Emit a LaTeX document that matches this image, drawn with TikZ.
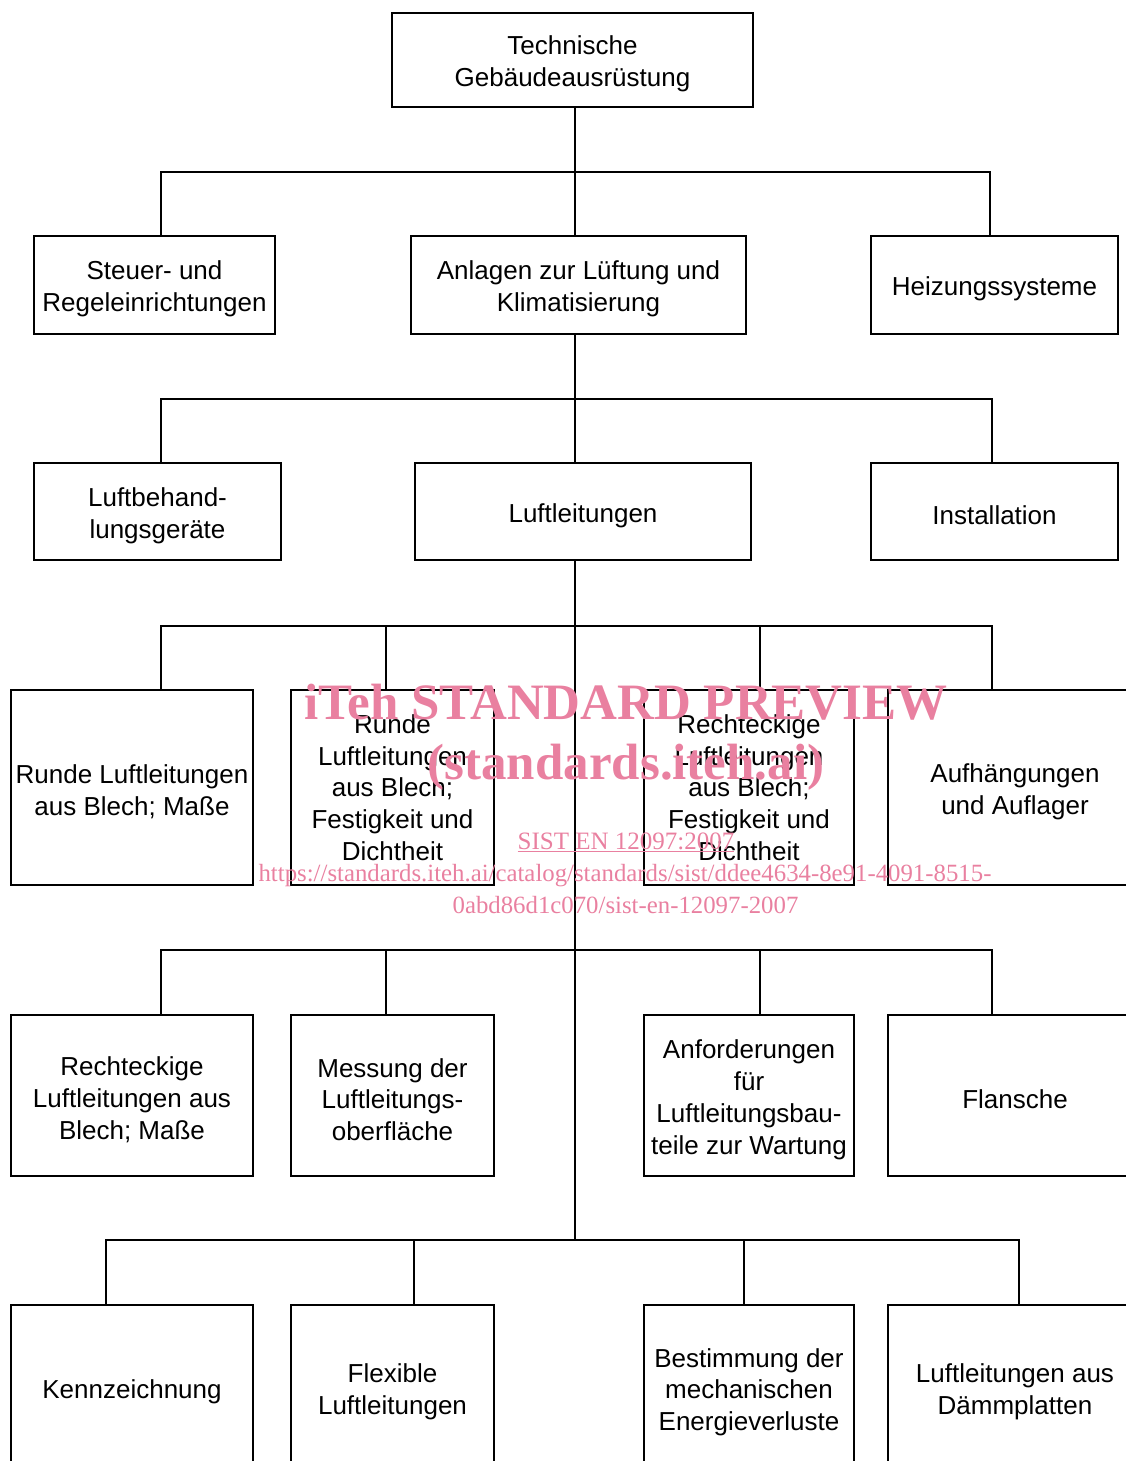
\documentclass[tikz,border=0pt]{standalone}
\usepackage{fontspec}
\setmainfont{Liberation Sans}
\newfontfamily\stampfont{Liberation Serif}
\usetikzlibrary{positioning}
\definecolor{stamppink}{RGB}{233,128,160}
\newcommand{\lift}{\rule{0pt}{27pt}}
\tikzstyle{link} = [draw, line width=1.6pt]
\tikzstyle{every topic} = [draw, line width=1.6pt, align=center, inner sep=0pt, font=\fontsize{26}{31.8}\selectfont]
\tikzstyle{topic} = [rectangle, every topic]
\tikzstyle{stamp} = [text=stamppink, inner sep=0pt, anchor=base]

\begin{document}
\begin{tikzpicture}[x=1pt, y=-1pt]
\useasboundingbox (0,0) rectangle (1126,1461);
\clip (0,0) rectangle (1126,1461);

% Top

\node[topic, minimum width=361pt, minimum height=94pt] (tga) at (572.5,60) {\lift Technische\\Gebäudeausrüstung};

% Second level

\node[topic, minimum width=241pt, minimum height=98pt] (steuer) at (154.5,285) {\lift Steuer- und\\Regeleinrichtungen};
\node[topic, minimum width=335pt, minimum height=98pt] (anlagen) at (578.5,285) {\lift Anlagen zur Lüftung und\\Klimatisierung};
\node[topic, minimum width=247pt, minimum height=98pt] (heizung) at (994.5,285) {\lift Heizungssysteme};

\coordinate (b1l) at (161,172);
\coordinate (b1m) at (575,172);
\coordinate (b1r) at (990,172);
\draw[link] (tga.south -| b1m) -- (b1m |- anlagen.north);
\draw[link] (b1l |- steuer.north) -- (b1l) -- (b1r) -- (b1r |- heizung.north);

% Third level

\node[topic, minimum width=247pt, minimum height=97pt] (luftbeh) at (157.5,511.5) {\lift Luftbehand-\\lungsgeräte};
\node[topic, minimum width=336pt, minimum height=97pt] (luftl) at (583,511.5) {\lift Luftleitungen};
\node[topic, minimum width=247pt, minimum height=97pt] (install) at (994.5,511.5) {\lift Installation};

\coordinate (b2l) at (161,399);
\coordinate (b2m) at (575,399);
\coordinate (b2r) at (992,399);
\draw[link] (anlagen.south -| b2m) -- (b2m |- luftl.north);
\draw[link] (b2l |- luftbeh.north) -- (b2l) -- (b2r) -- (b2r |- install.north);

% Luftleitungen, parts

\node[topic, minimum width=242pt, minimum height=195pt] (rundmass) at (132,787.5) {\lift Runde Luftleitungen\\aus Blech; Maße};
\node[topic, minimum width=203pt, minimum height=195pt] (rundfest) at (392.5,787.5) {Runde\\Luftleitungen\\aus Blech;\\Festigkeit und\\Dichtheit};
\node[topic, minimum width=210pt, minimum height=195pt] (rechtfest) at (749,787.5) {Rechteckige\\Luftleitungen\\aus Blech;\\Festigkeit und\\Dichtheit};
\node[topic, minimum width=254pt, minimum height=195pt] (aufhaeng) at (1015,787.5) {\lift Aufhängungen\\und Auflager};

\node[topic, minimum width=242pt, minimum height=161pt] (rechtmass) at (132,1095.5) {\lift Rechteckige\\Luftleitungen aus\\Blech; Maße};
\node[topic, minimum width=203pt, minimum height=161pt] (messung) at (392.5,1095.5) {\lift Messung der\\Luftleitungs-\\oberfläche};
\node[topic, minimum width=210pt, minimum height=161pt] (wartung) at (749,1095.5) {\lift Anforderungen\\für\\Luftleitungsbau-\\teile zur Wartung};
\node[topic, minimum width=254pt, minimum height=161pt] (flansch) at (1015,1095.5) {\lift Flansche};

\node[topic, minimum width=242pt, minimum height=166pt] (kennz) at (132,1388) {\lift Kennzeichnung};
\node[topic, minimum width=203pt, minimum height=166pt] (flexibel) at (392.5,1388) {\lift Flexible\\Luftleitungen};
\node[topic, minimum width=210pt, minimum height=166pt] (energie) at (749,1388) {\lift Bestimmung der\\mechanischen\\Energieverluste};
\node[topic, minimum width=254pt, minimum height=166pt] (daemm) at (1015,1388) {\lift Luftleitungen aus\\Dämmplatten};

\coordinate (trunk) at (575,1240);
\draw[link] (luftl.south -| trunk) -- (trunk);

\coordinate (b3a) at (161,626);
\coordinate (b3b) at (386,626);
\coordinate (b3c) at (760,626);
\coordinate (b3d) at (992,626);
\draw[link] (b3a |- rundmass.north) -- (b3a) -- (b3d) -- (b3d |- aufhaeng.north);
\draw[link] (b3b) -- (b3b |- rundfest.north);
\draw[link] (b3c) -- (b3c |- rechtfest.north);

\coordinate (b4a) at (161,950);
\coordinate (b4b) at (386,950);
\coordinate (b4c) at (760,950);
\coordinate (b4d) at (992,950);
\draw[link] (b4a |- rechtmass.north) -- (b4a) -- (b4d) -- (b4d |- flansch.north);
\draw[link] (b4b) -- (b4b |- messung.north);
\draw[link] (b4c) -- (b4c |- wartung.north);

\coordinate (b5a) at (106,1240);
\coordinate (b5b) at (414,1240);
\coordinate (b5c) at (744,1240);
\coordinate (b5d) at (1019,1240);
\draw[link] (b5a |- kennz.north) -- (b5a) -- (b5d) -- (b5d |- daemm.north);
\draw[link] (b5b) -- (b5b |- flexibel.north);
\draw[link] (b5c) -- (b5c |- energie.north);

% Stamp

\node[stamp, font=\stampfont\bfseries\fontsize{51}{60}\selectfont] (wm1) at (626,719) {iTeh STANDARD PREVIEW};
\node[stamp, font=\stampfont\bfseries\fontsize{51}{60}\selectfont] (wm2) at (626,779) {(standards.iteh.ai)};
\node[stamp, font=\stampfont\fontsize{25}{32}\selectfont] (wm3) at (626,849) {\underline{SIST EN 12097:2007}};
\node[stamp, font=\stampfont\fontsize{24.8}{32}\selectfont] (wm4) at (625,881) {https://standards.iteh.ai/catalog/standards/sist/ddee4634-8e91-4091-8515-};
\node[stamp, font=\stampfont\fontsize{24.8}{32}\selectfont] (wm5) at (625.5,913) {0abd86d1c070/sist-en-12097-2007};

\end{tikzpicture}
\end{document}
